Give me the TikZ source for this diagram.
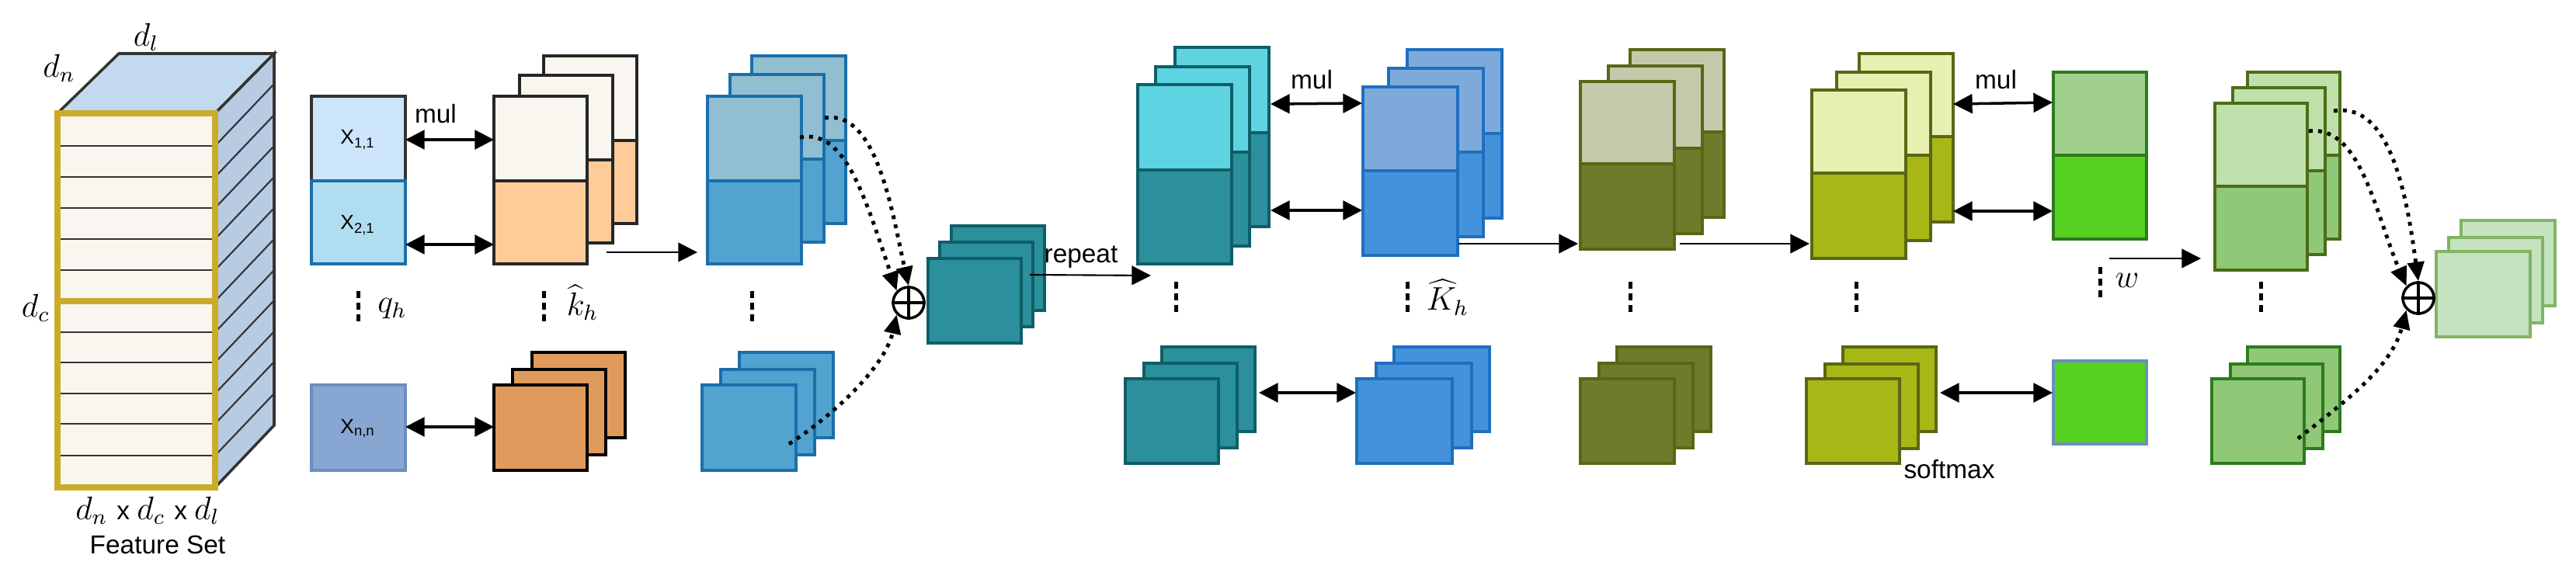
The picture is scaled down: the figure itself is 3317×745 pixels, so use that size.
\documentclass[tikz,border=0pt]{standalone}
\usepackage{fontspec}
\setmainfont{Liberation Sans}
\usetikzlibrary{arrows.meta}
\newcommand\lay[8]{%
  \fill[#6] (#1,#2) rectangle (#1+#3,#2+#5);
  \fill[#7] (#1,#2+#5) rectangle (#1+#3,#2+#4);
  \draw[#8,line width=1pt] (#1,#2) rectangle (#1+#3,#2+#4);
  \draw[#8,line width=1pt] (#1,#2+#5) -- (#1+#3,#2+#5);}
\newcommand\plain[6]{%
  \filldraw[fill=#5,draw=#6,line width=1pt] (#1,#2) rectangle (#1+#3,#2+#4);}
\newcommand\vdt[2]{%
  \foreach \k in {0,1,2}{\fill (#1-2.5,#2+\k*15) rectangle (#1+2.5,#2+\k*15+9);}}
\definecolor{cA}{HTML}{F8F6EE}\definecolor{cB}{HTML}{FFCC99}
\definecolor{cC}{HTML}{92BED2}\definecolor{cD}{HTML}{52A3CF}\definecolor{bD}{HTML}{1A6FAB}
\definecolor{cE}{HTML}{5ED3E2}\definecolor{cF}{HTML}{2B909B}\definecolor{bF}{HTML}{0E5E68}
\definecolor{cG}{HTML}{7EAADB}\definecolor{cH}{HTML}{4592DC}\definecolor{bH}{HTML}{1F6FC0}
\definecolor{cI}{HTML}{C5C9AB}\definecolor{cJ}{HTML}{6D7B2B}\definecolor{bJ}{HTML}{5A6614}
\definecolor{cK}{HTML}{E6F0B0}\definecolor{cL}{HTML}{A7B716}
\definecolor{cM}{HTML}{BFE0AA}\definecolor{cN}{HTML}{8FC877}\definecolor{bN}{HTML}{2D7A1F}
\definecolor{cO}{HTML}{C5E3BF}\definecolor{bO}{HTML}{82B366}
\definecolor{cP}{HTML}{A0D08C}\definecolor{cQ}{HTML}{55D21F}
\definecolor{cOr}{HTML}{E09B5C}\definecolor{gold}{HTML}{C9AC2A}
\definecolor{cTop}{HTML}{C2D9EF}\definecolor{cSide}{HTML}{B7CCE3}
\definecolor{cX1}{HTML}{CCE5FA}\definecolor{cX2}{HTML}{B1DDF0}\definecolor{cX3}{HTML}{87A6D1}\definecolor{bX3}{HTML}{6C8EBF}
\begin{document}
\begin{tikzpicture}[x=0.01cm,y=-0.01cm,
  lbl/.style={font=\fontsize{9.5}{11}\selectfont,inner sep=0pt},
  mth/.style={font=\fontsize{12}{14}\selectfont,inner sep=0pt},
  dbl/.style={{Triangle[length=7pt,width=7pt]}-{Triangle[length=7pt,width=7pt]},line width=1pt},
  one/.style={-{Triangle[length=7pt,width=7pt]},line width=0.6pt},
  dots/.style={dotted,line width=1.4pt,-{Triangle[length=7pt,width=6pt]}}]
\useasboundingbox (0,0) rectangle (3317,745);
% cube
\filldraw[fill=cTop,draw=black!80,line width=1pt] (74,146)--(153,69)--(353,69)--(277,146)--cycle;
\filldraw[fill=cSide,draw=black!80,line width=1pt] (277,146)--(353,69)--(353,548)--(277,628)--cycle;
\fill[cA] (74,146) rectangle (277,628);
\foreach \y in {188,228,268,308,348,388,428,467,507,546,587}{
  \draw[black!80,line width=0.8pt] (74,\y)--(277,\y);
  \draw[black!80,line width=0.6pt] (277,\y)--(353,\y-80);}
\draw[gold,line width=2.2pt] (74,146) rectangle (277,388);
\draw[gold,line width=2.2pt] (74,388) rectangle (277,628);
\node[mth] (dl) at (188,48) {$d_l$};
\node[mth] (dn) at (76,88) {$d_n$};
\node[mth] (dc) at (46,397) {$d_c$};
\node[mth] (dims) at (190,658) {$d_n$ \fontsize{9.5}{11}\selectfont x \fontsize{12}{14}\selectfont $d_c$ \fontsize{9.5}{11}\selectfont x \fontsize{12}{14}\selectfont $d_l$};
\node[lbl] (fs) at (203,702) {Feature Set};
% q column
\filldraw[fill=cX1,draw=black!80,line width=1pt] (401,124) rectangle (522,233);
\filldraw[fill=cX2,draw=bD,line width=1pt] (401,233) rectangle (522,340);
\filldraw[fill=cX3,draw=bX3,line width=1pt] (401,496) rectangle (522,606);
\node[lbl,font=\fontsize{7.5}{9}\selectfont] (x11) at (461,180) {X\textsubscript{1,1}};
\node[lbl,font=\fontsize{7.5}{9}\selectfont] (x21) at (461,290) {X\textsubscript{2,1}};
\node[lbl,font=\fontsize{7.5}{9}\selectfont] (xnn) at (461,552) {X\textsubscript{n,n}};
% k stacks
\lay{700}{72}{120}{216}{109}{cA}{cB}{black!85}
\lay{669}{97}{120}{216}{109}{cA}{cB}{black!85}
\lay{636}{124}{120}{216}{109}{cA}{cB}{black!85}
\plain{685}{454}{120}{110}{cOr}{black}
\plain{660}{476}{120}{110}{cOr}{black}
\plain{636}{496}{120}{110}{cOr}{black}
% blue 1
\lay{968}{72}{121}{216}{109}{cC}{cD}{bD}
\lay{940}{96}{121}{216}{109}{cC}{cD}{bD}
\lay{911}{124}{121}{216}{109}{cC}{cD}{bD}
\plain{952}{454}{121}{110}{cD}{bD}
\plain{928}{476}{121}{110}{cD}{bD}
\plain{904}{496}{121}{110}{cD}{bD}
% teal small
\plain{1225}{291}{120}{109}{cF}{bF}
\plain{1210}{312}{120}{109}{cF}{bF}
\plain{1195}{333}{120}{109}{cF}{bF}
% teal big
\lay{1513}{61}{121}{231}{110}{cE}{cF}{bF}
\lay{1488}{86}{121}{231}{110}{cE}{cF}{bF}
\lay{1465}{109}{121}{231}{110}{cE}{cF}{bF}
\plain{1496}{447}{120}{109}{cF}{bF}
\plain{1473}{468}{120}{109}{cF}{bF}
\plain{1449}{488}{120}{109}{cF}{bF}
% K
\lay{1812}{64}{122}{217}{108}{cG}{cH}{bH}
\lay{1788}{88}{122}{217}{108}{cG}{cH}{bH}
\lay{1755}{112}{122}{217}{108}{cG}{cH}{bH}
\plain{1795}{447}{123}{109}{cH}{bH}
\plain{1772}{468}{123}{109}{cH}{bH}
\plain{1747}{488}{123}{109}{cH}{bH}
% olive
\lay{2099}{64}{121}{216}{106}{cI}{cJ}{bJ}
\lay{2071}{85}{121}{216}{106}{cI}{cJ}{bJ}
\lay{2035}{105}{121}{216}{106}{cI}{cJ}{bJ}
\plain{2082}{447}{121}{109}{cJ}{bJ}
\plain{2059}{468}{121}{109}{cJ}{bJ}
\plain{2035}{488}{121}{109}{cJ}{bJ}
% yellow-green
\lay{2394}{69}{121}{217}{107}{cK}{cL}{bJ}
\lay{2365}{93}{121}{217}{107}{cK}{cL}{bJ}
\lay{2333}{116}{121}{217}{107}{cK}{cL}{bJ}
\plain{2373}{447}{120}{109}{cL}{bJ}
\plain{2350}{469}{120}{109}{cL}{bJ}
\plain{2326}{488}{120}{109}{cL}{bJ}
% green column
\lay{2644}{93}{120}{215}{107}{cP}{cQ}{bN}
\plain{2644}{465}{120}{107}{cQ}{bX3}
% light green
\lay{2894}{93}{119}{215}{107}{cM}{cN}{bJ!70!bN}
\lay{2875}{113}{119}{215}{107}{cM}{cN}{bJ!70!bN}
\lay{2852}{133}{119}{215}{107}{cM}{cN}{bJ!70!bN}
\plain{2894}{447}{119}{109}{cN}{bN}
\plain{2872}{469}{119}{109}{cN}{bN}
\plain{2848}{488}{119}{109}{cN}{bN}
% output
\plain{3169}{284}{121}{110}{cO}{bO}
\plain{3153}{306}{121}{110}{cO}{bO}
\plain{3137}{324}{121}{110}{cO}{bO}
% dots and labels
\vdt{461}{375}\node[mth] (qh) at (505,398) {$q_h$};
\vdt{700}{375}\node[mth] (kh) at (750,390) {$\widehat{k}_h$};
\vdt{968}{375}
\vdt{1514}{363}
\vdt{1812}{363}\node[mth] (Kh) at (1864,383) {$\widehat{K}_h$};
\vdt{2099}{363}
\vdt{2390}{363}
\vdt{2704}{344}\node[mth] (w) at (2739,361) {$w$};
\vdt{2911}{363}
\node[lbl] (mul1) at (561,147) {mul};
\node[lbl] (mul2) at (1689,103) {mul};
\node[lbl] (mul3) at (2570,103) {mul};
\node[lbl] (rep) at (1392,331) {repeat};
\node[lbl] (sm) at (2510,605) {softmax};
% coordinates
\coordinate (a1) at (522,180);\coordinate (b1) at (636,180);
\coordinate (a2) at (522,315);\coordinate (b2) at (636,315);
\coordinate (a3) at (522,550);\coordinate (b3) at (636,550);
\coordinate (c1) at (781,325);\coordinate (c2) at (898,325);
\coordinate (d1) at (1326,354);\coordinate (d2) at (1482,355);
\coordinate (e1) at (1636,134);\coordinate (e2) at (1754,133);
\coordinate (e3) at (1636,271);\coordinate (e4) at (1754,271);
\coordinate (e5) at (1621,506);\coordinate (e6) at (1746,506);
\coordinate (f1) at (1878,314);\coordinate (f2) at (2032,314);
\coordinate (g1) at (2163,314);\coordinate (g2) at (2330,314);
\coordinate (h1) at (2515,134);\coordinate (h2) at (2643,132);
\coordinate (h3) at (2515,272);\coordinate (h4) at (2643,272);
\coordinate (h5) at (2498,506);\coordinate (h6) at (2643,506);
\coordinate (i1) at (2716,333);\coordinate (i2) at (2834,333);
\draw[dbl] (a1)--(b1); \draw[dbl] (a2)--(b2); \draw[dbl] (a3)--(b3);
\draw[one] (c1)--(c2); \draw[one] (d1)--(d2);
\draw[dbl] (e1)--(e2); \draw[dbl] (e3)--(e4); \draw[dbl] (e5)--(e6);
\draw[one] (f1)--(f2); \draw[one] (g1)--(g2);
\draw[dbl] (h1)--(h2); \draw[dbl] (h3)--(h4); \draw[dbl] (h5)--(h6);
\draw[one] (i1)--(i2);
% oplus
\node[circle,draw,line width=1pt,minimum size=0.4cm,inner sep=0pt,fill=white] (op1) at (1170,390) {};
\draw[line width=1pt] (op1.west)--(op1.east) (op1.north)--(op1.south);
\node[circle,draw,line width=1pt,minimum size=0.4cm,inner sep=0pt,fill=white] (op2) at (3114,384) {};
\draw[line width=1pt] (op2.west)--(op2.east) (op2.north)--(op2.south);
\coordinate (s1) at (1030,177);\coordinate (s2) at (1062,152);\coordinate (s3) at (1016,572);
\draw[dots] (s1) .. controls (1090,165) and (1115,260) .. (op1.north west);
\draw[dots] (s2) .. controls (1130,140) and (1150,280) .. (op1.north);
\draw[dots] (s3) .. controls (1080,530) and (1140,470) .. (op1.south west);
\coordinate (t1) at (2973,169);\coordinate (t2) at (3005,143);\coordinate (t3) at (2959,565);
\draw[dots] (t1) .. controls (3040,160) and (3060,280) .. (op2.north west);
\draw[dots] (t2) .. controls (3080,130) and (3100,260) .. (op2.north);
\draw[dots] (t3) .. controls (3030,510) and (3080,470) .. (op2.south west);
\end{tikzpicture}
\end{document}
